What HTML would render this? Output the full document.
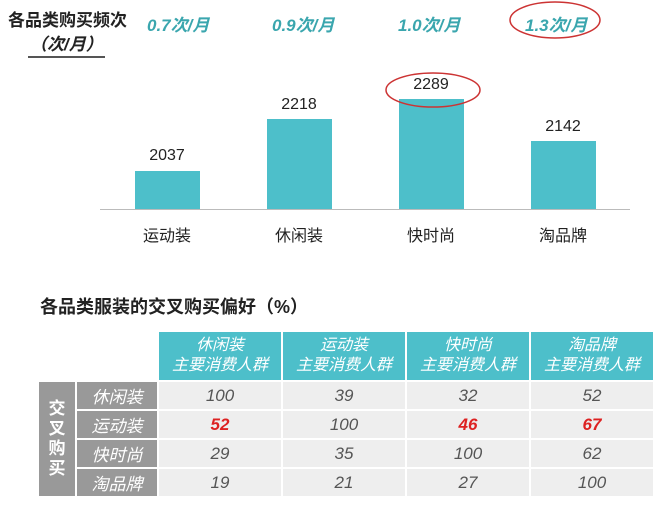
<!DOCTYPE html>
<html><head><meta charset="utf-8"><style>
body{margin:0;width:660px;height:515px;background:#fff;overflow:hidden;position:relative;font-family:"Liberation Sans","Noto Sans CJK SC",sans-serif}
.a{position:absolute;white-space:nowrap}
.bar{position:absolute;background:#4dbfca}
.v{position:absolute;font-size:16px;color:#222;width:80px;text-align:center}
.c{position:absolute;font-size:16px;color:#222;width:80px;text-align:center;top:222px}
.t{position:absolute;font-size:17px;font-weight:bold;font-style:italic;color:#3aa6ae;top:11px}
table{position:absolute;left:37px;top:330px;border-collapse:collapse}
td{padding:0;text-align:center;font-style:italic;font-size:17px;color:#555;border:2px solid #fff}
.h{background:#4dbfca;color:#fff;font-size:16px;line-height:20px;height:48px;width:122px}
.rh{background:#999;color:#fff;font-size:17px;width:80px}
.b{background:#eee;height:27px}
.r{color:#d22;font-weight:bold}
</style></head><body>
<div class="a" style="left:8px;top:6px;font-size:17px;font-weight:bold;color:#222">各品类购买频次</div>
<div class="a" style="left:28px;top:30px;font-size:17px;font-weight:bold;font-style:italic;color:#222;border-bottom:2px solid #555;padding:0 2px 1px">（次/月）</div>
<div class="t" style="left:147px">0.7次/月</div>
<div class="t" style="left:272px">0.9次/月</div>
<div class="t" style="left:398px">1.0次/月</div>
<div class="t" style="left:525px">1.3次/月</div>
<div class="bar" style="left:135px;top:171px;width:65px;height:39px"></div>
<div class="bar" style="left:267px;top:119px;width:65px;height:91px"></div>
<div class="bar" style="left:399px;top:99px;width:65px;height:111px"></div>
<div class="bar" style="left:531px;top:141px;width:65px;height:69px"></div>
<div class="a" style="left:100px;top:209px;width:530px;height:1px;background:#bbb"></div>
<div class="v" style="left:127px;top:147px">2037</div>
<div class="v" style="left:259px;top:96px">2218</div>
<div class="v" style="left:391px;top:76px">2289</div>
<div class="v" style="left:523px;top:118px">2142</div>
<div class="c" style="left:127px">运动装</div>
<div class="c" style="left:259px">休闲装</div>
<div class="c" style="left:391px">快时尚</div>
<div class="c" style="left:523px">淘品牌</div>
<svg class="a" style="left:0;top:0" width="660" height="120"><ellipse cx="555" cy="20" rx="45" ry="18" fill="none" stroke="#c33" stroke-width="1.5"/><ellipse cx="433" cy="90" rx="47" ry="17" fill="none" stroke="#c33" stroke-width="1.5"/></svg>
<div class="a" style="left:40px;top:293px;font-size:18px;font-weight:bold;color:#222">各品类服装的交叉购买偏好（%）</div>
<table>
<tr><td colspan="2" style="border:none;background:#fff"></td><td class="h">休闲装<br>主要消费人群</td><td class="h">运动装<br>主要消费人群</td><td class="h">快时尚<br>主要消费人群</td><td class="h">淘品牌<br>主要消费人群</td></tr>
<tr><td rowspan="4" class="rh" style="width:36px;font-style:normal;font-weight:bold;line-height:20px">交<br>叉<br>购<br>买</td><td class="rh b" style="background:#999">休闲装</td><td class="b">100</td><td class="b">39</td><td class="b">32</td><td class="b">52</td></tr>
<tr><td class="rh b" style="background:#999">运动装</td><td class="b r">52</td><td class="b">100</td><td class="b r">46</td><td class="b r">67</td></tr>
<tr><td class="rh b" style="background:#999">快时尚</td><td class="b">29</td><td class="b">35</td><td class="b">100</td><td class="b">62</td></tr>
<tr><td class="rh b" style="background:#999">淘品牌</td><td class="b">19</td><td class="b">21</td><td class="b">27</td><td class="b">100</td></tr>
</table>
</body></html>
